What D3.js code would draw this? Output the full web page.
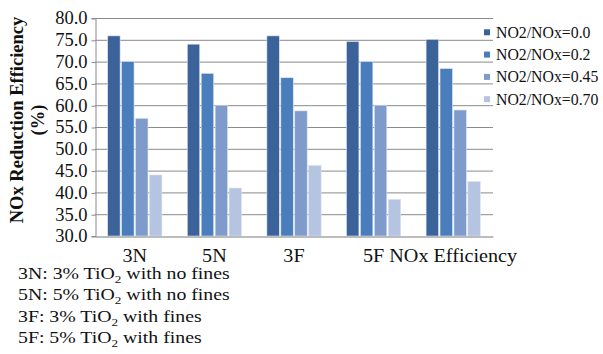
<!DOCTYPE html>
<html>
<head>
<meta charset="utf-8">
<script src="https://cdn.jsdelivr.net/npm/d3@7/dist/d3.min.js"></script>
<style>
  html, body { margin: 0; padding: 0; background: #fff; }
  svg { display: block; }
  text { font-family: "Liberation Serif", "Times New Roman", serif; fill: #111; }
</style>
</head>
<body>
<svg id="chart" width="603" height="354"></svg>
<script>
// ---- data ----
const categories = ["3N", "5N", "3F", "5F", "NOx Efficiency"];
const seriesNames = ["NO2/NOx=0.0", "NO2/NOx=0.2", "NO2/NOx=0.45", "NO2/NOx=0.70"];
const s00 = [75.9, 74.0, 75.9, 74.6, 75.1];
const s02 = [70.0, 67.3, 66.3, 70.0, 68.4];
const s045 = [57.0, 60.0, 58.7, 60.0, 58.9];
const s070 = [44.0, 41.0, 46.2, 38.4, 42.5];
const yTicks = [30, 35, 40, 45, 50, 55, 60, 65, 70, 75, 80];
const yTitle = ["NOx Reduction Efficiency", "(%)"];
const notes = [
  ["3N: 3% TiO", "2", " with no fines"],
  ["5N: 5% TiO", "2", " with no fines"],
  ["3F: 3% TiO", "2", " with fines"],
  ["5F: 5% TiO", "2", " with fines"]
];

const seriesValues = [s00, s02, s045, s070];
const colors = ["#3b6399", "#4a7dbb", "#7e9bcb", "#b5c4e0"];

const svg = d3.select("#chart");
const L = 95, R = 493, T = 18, B = 236;

const y = d3.scaleLinear().domain([30, 80]).range([B, T]);
const x0 = d3.scaleBand().domain(categories).range([L, R]).paddingInner(0.3).paddingOuter(0.15);
const x1 = d3.scaleBand().domain(d3.range(seriesNames.length)).range([0, x0.bandwidth()]);

// gridlines
svg.append("g").selectAll("line").data(yTicks.filter(t => t > 30)).join("line")
  .attr("x1", L).attr("x2", R)
  .attr("y1", d => y(d) + 0.5).attr("y2", d => y(d) + 0.5)
  .attr("stroke", "#8a8a8a").attr("stroke-width", 1);

// y axis
const yAxis = d3.axisLeft(y).tickValues(yTicks).tickFormat(d3.format(".1f")).tickSize(4).tickPadding(4);
const gy = svg.append("g").attr("transform", `translate(${L + 0.5},0)`).call(yAxis);
gy.select(".domain").attr("stroke", "#8a8a8a");
gy.selectAll(".tick line").attr("stroke", "#8a8a8a").attr("transform", "translate(0,0.5)");
gy.selectAll(".tick text").attr("font-size", 18.5).attr("fill", "#111");

// bars
const groups = svg.append("g").selectAll("g").data(categories).join("g")
  .attr("transform", d => `translate(${x0(d)},0)`);
groups.selectAll("rect")
  .data((c, ci) => seriesValues.map((vals, si) => ({ si, v: vals[ci] })))
  .join("rect")
  .attr("x", d => x1(d.si) + 0.75)
  .attr("width", x1.bandwidth() - 1.5)
  .attr("y", d => y(d.v))
  .attr("height", d => y(30) - y(d.v))
  .attr("fill", d => colors[d.si])
  .attr("stroke", "#dbe5f3").attr("stroke-width", 0.6);

// x axis
const xAxis = d3.axisBottom(x0).tickSize(0).tickPadding(13);
const gx = svg.append("g").attr("transform", `translate(0,${B + 0.5})`).call(xAxis);
gx.select(".domain").attr("stroke", "#7a7a7a");
gx.selectAll(".tick text").attr("font-size", 18).attr("fill", "#111")
  .attr("transform", "scale(1.12,1)");

// y title
const yt = svg.append("text").attr("transform", "translate(23,120) rotate(-90)")
  .attr("text-anchor", "middle").attr("font-weight", "bold").attr("font-size", 18.5);
yt.append("tspan").attr("x", 0).attr("dy", 0).text(yTitle[0]);
yt.append("tspan").attr("x", 0).attr("dy", 21).text(yTitle[1]);

// legend
const lg = svg.append("g").selectAll("g").data(seriesNames).join("g")
  .attr("transform", (d, i) => `translate(484,${32.3 + i * 22.3})`);
lg.append("rect").attr("x", 0).attr("y", -3).attr("width", 6).attr("height", 6)
  .attr("fill", (d, i) => colors[i]);
lg.append("text").attr("x", 12).attr("y", 5.5).attr("font-size", 15.8).text(d => d);

// notes
const ng = svg.append("g").attr("transform", "translate(18,0) scale(1.2,1)");
const nt = ng.selectAll("text").data(notes).join("text")
  .attr("x", 0).attr("y", (d, i) => 279 + i * 21.5).attr("font-size", 16.5);
nt.each(function(d) {
  const t = d3.select(this);
  t.append("tspan").text(d[0]);
  t.append("tspan").attr("dy", 4).attr("font-size", 11).text(d[1]);
  t.append("tspan").attr("dy", -4).text(d[2]);
});
</script>
</body>
</html>
